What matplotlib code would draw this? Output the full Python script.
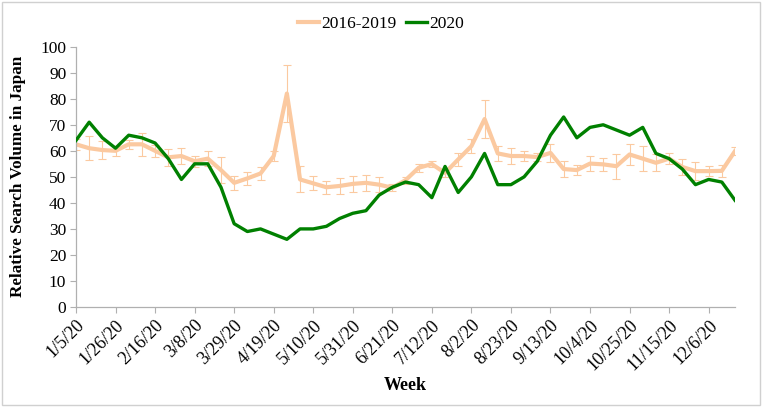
import numpy as np
import pandas as pd
import matplotlib
matplotlib.use('Agg')
import matplotlib.pyplot as plt
from matplotlib.lines import Line2D

# viikkodata 1/5/20 .. 12/20/20
weeks = pd.date_range('2020-01-05', periods=51, freq='7D')

avg_2016_2019 = [62.5, 61, 60.3, 60, 62.5, 62.5, 60, 57.5, 58, 56, 57, 52.6, 47.7, 49.4, 51.3, 58,
                 82, 49, 47.5, 46, 46.5, 47.3, 47.7, 47, 45.8, 48.7, 53.5, 54.9, 51.5, 56.7, 61.8,
                 72.2, 59, 58, 58, 57.6, 59.2, 53, 52.6, 55.1, 54.8, 54.1, 58.6, 57, 55.4, 57, 53.8,
                 52.2, 52.2, 52.3, 59.9]
err_2016_2019 = [2.2, 4.6, 3.3, 2, 1.7, 4.3, 2.4, 3.2, 2.9, 2.1, 3, 5, 2.7, 2.6, 2.6, 2.1,
                 11, 5, 2.7, 2.4, 3, 3, 3, 3, 1.3, 1.3, 1.6, 1.3, 1.6, 2.4, 2.6,
                 7.2, 3, 3.2, 1.8, 1.6, 3.5, 3, 2, 2.9, 2.6, 4.8, 4, 4.8, 3.2, 2.2, 3.2,
                 3.6, 2, 2.3, 1.5]
vol_2020 = [64, 71, 65, 61, 66, 65, 63, 57, 49, 55, 55, 46, 32, 29, 30, 28, 26, 30, 30, 31, 34,
            36, 37, 43, 46, 48, 47, 42, 54, 44, 50, 59, 47, 47, 50, 56, 66, 73, 65, 69, 70, 68,
            66, 69, 59, 57, 53, 47, 49, 48, 41]

labels = [f'{d.month}/{d.day}/20' for d in weeks]
x = np.arange(len(weeks))

plt.rcParams['font.family'] = ['Liberation Serif', 'DejaVu Serif']

fig = plt.figure(figsize=(7.62, 4.07), dpi=100)
ax = fig.add_axes([76 / 762, 1 - 307 / 407, (735 - 76) / 762, (307 - 46.7) / 407])

peach = '#fbc9a0'
green = '#008000'
gray = '#b0b0b0'

ax.errorbar(x, avg_2016_2019, yerr=err_2016_2019, color=peach, lw=3, ecolor=peach,
            elinewidth=0.8, capsize=3, capthick=0.8, zorder=2)
ax.plot(x, vol_2020, color=green, lw=2.4, zorder=3)

ax.set_xlim(0, len(x) - 1)
ax.set_ylim(0, 100)
ax.set_yticks(range(0, 101, 10))
ax.set_xticks(x[::3])
ax.set_xticklabels(labels[::3], rotation=45, ha='right', rotation_mode='anchor')
ax.tick_params(axis='y', labelsize=12.5, color=gray, length=4, pad=3)
ax.tick_params(axis='x', labelsize=13, color=gray, length=4, pad=3)

for s in ['top', 'right']:
    ax.spines[s].set_visible(False)
for s in ['left', 'bottom']:
    ax.spines[s].set_color(gray)
    ax.spines[s].set_linewidth(0.9)

ax.set_ylabel('Relative Search Volume in Japan', fontsize=12.3, fontweight='bold', labelpad=10)
ax.set_xlabel('Week', fontsize=13, fontweight='bold', labelpad=2)

handles = [Line2D([], [], color=peach, lw=3), Line2D([], [], color=green, lw=2.4)]
fig.legend(handles, ['2016-2019', '2020'], loc='upper center', bbox_to_anchor=(0.5, 1.0),
           ncol=2, frameon=False, fontsize=12.5, handlelength=1.2, handletextpad=0.1,
           columnspacing=0.6)

# kehys koko kuvan ympärille
fig.patches.append(plt.Rectangle((0.002, 0.004), 0.995, 0.992, transform=fig.transFigure,
                                 fill=False, edgecolor='#d0d0d0', lw=1))

fig.savefig('out.png', dpi=100)
